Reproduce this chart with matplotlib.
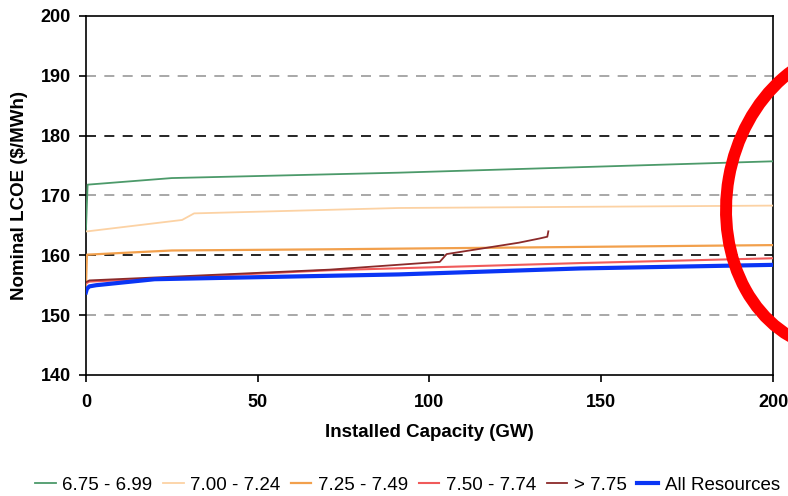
import matplotlib
matplotlib.use("Agg")
import matplotlib.pyplot as plt
from matplotlib.patches import Ellipse

plt.rcParams["font.family"] = ["Liberation Sans", "DejaVu Sans"]

# LCOE supply curves by wind-speed class (m/s)
x_a = [0, 0.5, 25, 91, 200]
y_a = [164.0, 171.8, 172.9, 173.8, 175.7]

x_b = [0, 0.5, 28, 31.5, 91, 200]
y_b = [164.0, 164.0, 165.9, 167.0, 167.9, 168.3]

x_c = [0, 0.3, 25, 71, 200]
y_c = [154.5, 160.1, 160.8, 161.0, 161.7]

x_d = [0, 1, 71, 144, 200]
y_d = [155.3, 155.6, 157.5, 158.7, 159.5]

x_e = [0, 1, 71, 103, 105, 126, 132, 134.3, 134.6]
y_e = [155.5, 155.8, 157.6, 158.9, 160.2, 162.1, 162.8, 163.1, 164.0]

x_all = [0, 0.3, 1, 3, 20, 91, 144, 200]
y_all = [153.8, 154.4, 154.8, 155.0, 156.0, 156.8, 157.8, 158.4]

labels = ["6.75 - 6.99", "7.00 - 7.24", "7.25 - 7.49", "7.50 - 7.74", "> 7.75", "All Resources"]
colors = ["#4C9A6A", "#FCD2A4", "#F2A04C", "#F05A5A", "#8B2A2A", "#0A35F5"]

fig = plt.figure(figsize=(7.88, 4.96), dpi=100)
ax = fig.add_axes([0.109, 0.244, 0.872, 0.724])

for yv in [150, 170, 190]:
    ax.axhline(yv, color="#999999", lw=1.2, ls=(0, (6, 5)), zorder=1)
for yv in [160, 180]:
    ax.axhline(yv, color="black", lw=1.2, ls=(0, (6, 5)), zorder=1)

series = [(x_a, y_a), (x_b, y_b), (x_c, y_c), (x_d, y_d), (x_e, y_e), (x_all, y_all)]
widths = [1.3, 1.3, 1.6, 1.5, 1.3, 3.0]
for (xs, ys), lab, c, w in zip(series, labels, colors, widths):
    ax.plot(xs, ys, color=c, lw=w, label=lab, zorder=3)

ax.set_xlim(0, 200)
ax.set_ylim(140, 200)
ax.set_xticks([0, 50, 100, 150, 200])
ax.set_yticks(range(140, 201, 10))
ax.tick_params(axis="both", direction="out", length=5, width=1.2, labelsize=13)
ax.tick_params(axis="x", pad=9)
ax.tick_params(axis="y", pad=6)
for lbl in ax.get_xticklabels() + ax.get_yticklabels():
    lbl.set_fontweight("bold")
for s in ax.spines.values():
    s.set_linewidth(1.2)

ax.set_xlabel("Installed Capacity (GW)", fontsize=13.5, fontweight="bold", labelpad=9)
ax.set_ylabel("Nominal LCOE ($/MWh)", fontsize=13.5, fontweight="bold", labelpad=9)

handles, labs = ax.get_legend_handles_labels()
fig.legend(handles, labs, loc="lower center", bbox_to_anchor=(0.517, -0.03), ncol=6,
           frameon=False, fontsize=13.5, handlelength=1.1, handletextpad=0.36,
           columnspacing=0.55)

# red highlight ellipse
fig.add_artist(Ellipse((8.50, 2.97), 2.46, 3.04, angle=-10, fill=False,
                       edgecolor="#FF0000", lw=8.6,
                       transform=fig.dpi_scale_trans, zorder=10))

fig.savefig("out.png", dpi=100)
